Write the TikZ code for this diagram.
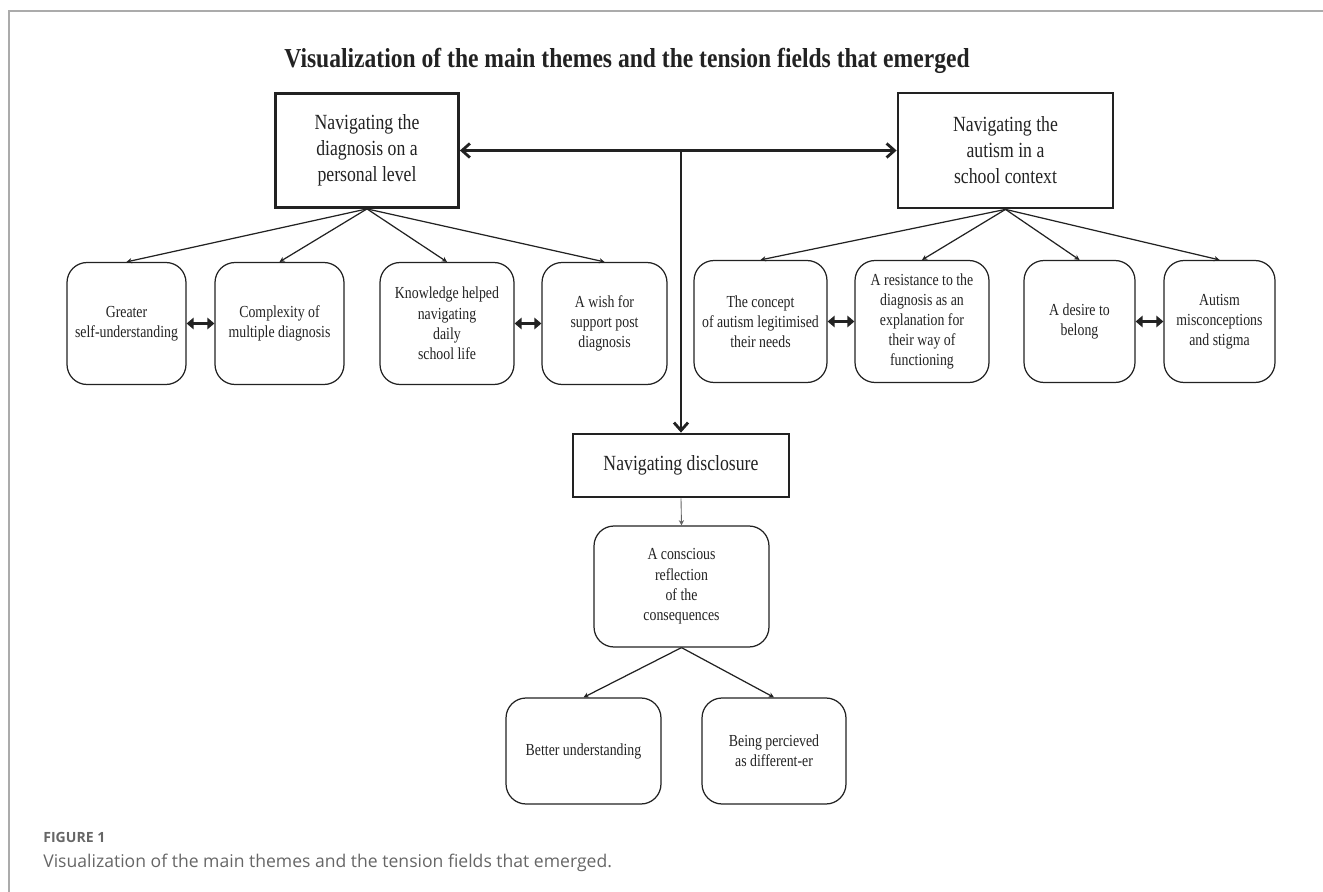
\documentclass[tikz,border=0pt]{standalone}
\usepackage{fontspec}
\usetikzlibrary{arrows.meta}
\setmainfont{Liberation Serif}
\newfontfamily\boxfont[FakeStretch=0.82]{Liberation Serif}
\newfontfamily\titlefont[FakeStretch=0.86]{Liberation Serif}
\newfontfamily\capfont{Open Sans}
\definecolor{inkline}{HTML}{222222}
\definecolor{capgray}{HTML}{666666}
\definecolor{framegray}{HTML}{ABABAB}

\tikzset{
  themebox/.style={draw=inkline, text=inkline, line width=1.6pt, align=center, inner sep=0pt,
    font=\boxfont\fontsize{12.3}{14.8}\selectfont},
  subbox/.style={draw=inkline, text=inkline, line width=0.7pt, rounded corners=0.4cm, align=center,
    inner sep=0pt, minimum height=2.44cm, font=\boxfont\fontsize{9.6}{11.5}\selectfont},
  branch/.style={draw=inkline, line width=0.7pt, -{Stealth[length=3pt, width=3pt]}},
  mainarrow/.style={draw=inkline, line width=1.6pt, {Straight Barb[length=4.5pt, width=8pt]}-{Straight Barb[length=4.5pt, width=8pt]}},
  pairarrow/.style={draw=inkline, line width=1.5pt, {Triangle[length=4pt, width=6.5pt]}-{Triangle[length=4pt, width=6.5pt]}},
}

\begin{document}
\begin{tikzpicture}[x=0.02cm, y=-0.02cm]
    \useasboundingbox (0,0) rectangle (1323,892);
    % \draw[style = help lines, step=50] (0,0) grid (1323,892);
    \draw[framegray, line width=1.2pt] (9,892) -- (9,11) -- (1323,11);

    \node[anchor=base, text=inkline, font=\titlefont\bfseries\fontsize{15.6}{18}\selectfont] (title) at (627,68)
        {Visualization of the main themes and the tension fields that emerged};

    % main themes
    \node[themebox, minimum width=3.66cm, minimum height=2.28cm] (personal) at (367,150.5)
        {Navigating the\\ diagnosis on a\\ personal level};
    \node[themebox, minimum width=4.3cm, minimum height=2.3cm] (school) at (1005.5,150.5)
        {Navigating the\\ autism in a\\ school context};
    \node[themebox, minimum width=4.32cm, minimum height=1.26cm] (disclosure) at (681,465.5)
        {Navigating disclosure};

    % personal level
    \node[subbox, minimum width=2.38cm] (g1) at (126.5,323.5) {Greater\\ self-understanding};
    \node[subbox, minimum width=2.58cm] (g2) at (279.5,323.5) {Complexity of\\ multiple diagnosis};
    \node[subbox, minimum width=2.68cm] (g3) at (447,323.5) {Knowledge helped\\ navigating\\ daily\\ school life};
    \node[subbox, minimum width=2.5cm] (g4) at (604.5,323.5) {A wish for\\ support post\\ diagnosis};

    % school context
    \node[subbox, minimum width=2.66cm] (s1) at (760.5,321.5) {The concept\\ of autism legitimised\\ their needs};
    \node[subbox, minimum width=2.68cm] (s2) at (922,321.5) {A resistance to the\\ diagnosis as an\\ explanation for\\ their way of\\ functioning};
    \node[subbox, minimum width=2.22cm] (s3) at (1079.5,321.5) {A desire to\\ belong};
    \node[subbox, minimum width=2.22cm] (s4) at (1219.5,321.5) {Autism\\ misconceptions\\ and stigma};

    % disclosure
    \node[subbox, minimum width=3.5cm, minimum height=2.42cm] (reflect) at (681.5,586.5)
        {A conscious\\ reflection\\ of the\\ consequences};
    \node[subbox, minimum width=3.1cm, minimum height=2.12cm] (better) at (583.5,751) {Better understanding};
    \node[subbox, minimum width=2.88cm, minimum height=2.12cm] (different) at (774,751) {Being percieved\\ as different-er};

    % connectors
    \draw[mainarrow] (personal.east) -- (school.west);
    \coordinate (hub) at (personal.east -| disclosure.north);
    \draw[draw=inkline, line width=1.6pt, -{Straight Barb[length=4.5pt, width=8pt]}] (hub) -- (disclosure.north);

    \foreach \g in {g1,g2,g3,g4}
        \draw[branch] (personal.south) -- (\g.north);
    \foreach \s in {s1,s2,s3,s4}
        \draw[branch] (school.south) -- (\s.north);

    \draw[pairarrow] (g1.east) -- (g2.west);
    \draw[pairarrow] (g3.east) -- (g4.west);
    \draw[pairarrow] (s1.east) -- (s2.west);
    \draw[pairarrow] (s3.east) -- (s4.west);

    \draw[draw=inkline!70, line width=0.5pt, -{Stealth[length=3pt, width=3pt]}] (disclosure.south) -- (reflect.north);
    \draw[branch] (reflect.south) -- (better.north);
    \draw[branch] (reflect.south) -- (different.north);

    % caption
    \node[anchor=base west, inner sep=0pt, text=capgray, font=\capfont\bfseries\fontsize{8}{10}\selectfont] (figlabel) at (43,842) {FIGURE 1};
    \node[anchor=base west, inner sep=0pt, text=capgray, font=\capfont\fontsize{10}{12}\selectfont] (caption) at (43,867)
        {Visualization of the main themes and the tension fields that emerged.};
\end{tikzpicture}
\end{document}
